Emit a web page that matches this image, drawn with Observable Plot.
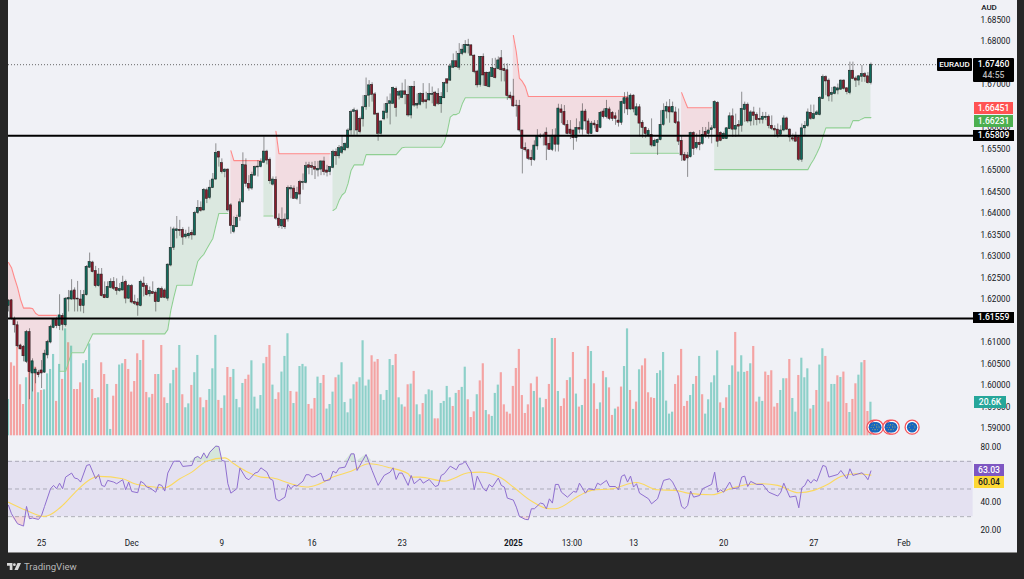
<!DOCTYPE html>
<html>
<head>
<meta charset="utf-8">
<script src="https://cdn.jsdelivr.net/npm/d3@7"></script>
<script src="https://cdn.jsdelivr.net/npm/@observablehq/plot@0.6"></script>
<style>
html,body{margin:0;padding:0;background:#262626;width:1024px;height:579px;overflow:hidden;font-family:Roboto,sans-serif}
#chart{position:relative;width:1024px;height:579px;overflow:hidden}
#panel{position:absolute;left:8px;top:0;width:1009px;height:553px;background:#f0f1f6;border-bottom:1px solid #8a8a8a;box-sizing:border-box}
#chart > svg{position:absolute;left:0;background:transparent;max-width:none}
.tag{position:absolute;text-align:center;font-size:8.6px;font-weight:500;line-height:11px;box-sizing:border-box;white-space:nowrap}
#brand{position:absolute;left:7px;top:561px;display:flex;align-items:center;gap:3px;color:#b8b8b8;font-size:9.6px}
</style>
</head>
<body>
<div id="chart"><div id="panel"></div></div>
<script>
// EUR/AUD 4-hour candles, prices in 1/10000
const opens = [16185,16198,16154,16140,16093,16090,16055,16124,16028,16028,16030,16035,16030,16070,16100,16134,16152,16138,16162,16140,16200,16200,16221,16202,16200,16185,16210,16274,16286,16266,16231,16258,16210,16203,16227,16241,16227,16220,16221,16241,16202,16231,16194,16193,16185,16237,16231,16212,16217,16216,16194,16224,16221,16202,16279,16320,16359,16362,16362,16345,16347,16355,16349,16401,16413,16407,16454,16436,16459,16479,16543,16517,16496,16502,16419,16357,16368,16392,16426,16512,16469,16458,16488,16507,16508,16518,16544,16525,16467,16478,16388,16370,16386,16386,16456,16458,16434,16473,16471,16471,16512,16510,16508,16500,16502,16521,16500,16496,16506,16543,16533,16541,16547,16552,16593,16636,16638,16620,16619,16647,16674,16699,16677,16632,16585,16619,16634,16655,16655,16690,16674,16669,16684,16676,16628,16694,16651,16653,16678,16663,16663,16676,16681,16678,16654,16668,16712,16709,16739,16754,16739,16771,16774,16789,16791,16767,16730,16699,16764,16727,16694,16717,16736,16736,16761,16736,16733,16674,16672,16651,16650,16593,16552,16547,16529,16524,16556,16581,16581,16588,16562,16548,16581,16560,16642,16636,16606,16595,16593,16575,16599,16595,16637,16614,16585,16609,16606,16599,16637,16624,16642,16634,16626,16616,16611,16655,16668,16642,16674,16628,16647,16611,16599,16582,16583,16556,16564,16571,16606,16637,16647,16635,16635,16612,16569,16536,16535,16531,16587,16552,16564,16562,16590,16585,16594,16598,16657,16587,16573,16573,16596,16626,16595,16606,16604,16641,16653,16614,16635,16629,16620,16618,16622,16625,16604,16597,16595,16583,16593,16621,16595,16575,16581,16577,16525,16598,16603,16634,16620,16629,16629,16666,16717,16709,16676,16678,16686,16688,16709,16691,16680,16732,16714,16709,16718,16724,16719,16703];
const closes = [16196,16155,16140,16091,16084,16068,16124,16031,16056,16037,16024,16028,16074,16101,16136,16152,16138,16163,16141,16202,16203,16219,16200,16200,16185,16210,16276,16287,16264,16231,16258,16208,16203,16229,16241,16225,16220,16224,16239,16202,16231,16193,16190,16186,16241,16229,16210,16220,16213,16194,16225,16204,16204,16281,16320,16363,16363,16359,16344,16351,16353,16349,16401,16413,16406,16455,16434,16460,16479,16541,16530,16496,16502,16407,16371,16371,16390,16426,16513,16469,16458,16490,16508,16509,16520,16544,16523,16475,16479,16388,16371,16385,16368,16459,16459,16434,16448,16444,16473,16510,16506,16506,16502,16504,16521,16496,16495,16508,16543,16533,16552,16554,16562,16593,16636,16640,16593,16589,16647,16673,16698,16676,16630,16585,16614,16637,16655,16661,16692,16645,16682,16684,16676,16628,16694,16651,16655,16678,16659,16659,16678,16678,16650,16655,16671,16703,16702,16742,16754,16740,16771,16781,16792,16792,16767,16729,16698,16764,16721,16696,16727,16738,16715,16756,16733,16731,16673,16668,16649,16650,16593,16550,16547,16527,16524,16558,16580,16578,16579,16558,16548,16581,16560,16644,16634,16606,16585,16585,16575,16599,16595,16637,16614,16585,16609,16605,16589,16634,16624,16643,16620,16620,16620,16611,16659,16668,16642,16674,16642,16647,16609,16599,16585,16592,16558,16569,16571,16606,16639,16648,16635,16648,16610,16567,16535,16523,16528,16587,16550,16564,16559,16583,16581,16593,16598,16659,16567,16569,16585,16598,16626,16595,16604,16602,16643,16653,16614,16635,16627,16617,16617,16625,16625,16603,16597,16593,16583,16593,16621,16595,16577,16572,16567,16525,16598,16604,16635,16620,16631,16635,16669,16717,16707,16672,16680,16693,16691,16709,16690,16682,16732,16713,16709,16719,16724,16717,16703,16746];
const highs = [16200,16200,16159,16148,16096,16093,16128,16132,16062,16041,16035,16058,16082,16105,16140,16155,16159,16211,16167,16204,16221,16246,16227,16242,16221,16221,16279,16308,16289,16277,16272,16272,16241,16241,16248,16251,16248,16237,16254,16245,16235,16235,16210,16202,16245,16252,16237,16229,16241,16220,16227,16229,16225,16283,16368,16368,16393,16384,16367,16361,16368,16361,16405,16430,16427,16458,16459,16477,16493,16562,16545,16527,16504,16504,16423,16392,16396,16434,16541,16527,16488,16496,16510,16523,16527,16578,16547,16529,16485,16485,16399,16413,16399,16464,16465,16464,16461,16477,16492,16519,16519,16519,16521,16521,16523,16531,16512,16509,16547,16550,16558,16580,16564,16597,16640,16645,16642,16624,16674,16715,16709,16704,16681,16634,16616,16655,16671,16678,16694,16694,16686,16703,16711,16696,16696,16707,16678,16681,16702,16682,16702,16694,16684,16690,16681,16705,16713,16748,16771,16777,16795,16792,16802,16805,16792,16769,16733,16765,16771,16729,16730,16760,16761,16764,16779,16748,16748,16682,16712,16663,16663,16593,16564,16549,16547,16569,16595,16585,16585,16599,16581,16595,16597,16654,16653,16651,16616,16616,16593,16620,16613,16655,16642,16620,16614,16616,16616,16637,16643,16663,16647,16637,16634,16640,16661,16681,16682,16678,16676,16655,16653,16616,16601,16597,16620,16573,16573,16639,16655,16659,16665,16659,16647,16643,16581,16542,16542,16589,16590,16585,16593,16600,16600,16612,16604,16662,16660,16590,16589,16600,16634,16643,16631,16616,16682,16659,16657,16639,16647,16634,16645,16635,16635,16629,16627,16604,16608,16604,16627,16624,16597,16585,16589,16581,16608,16614,16643,16652,16652,16639,16672,16722,16720,16713,16693,16695,16701,16711,16711,16693,16752,16752,16719,16721,16744,16728,16728,16750];
const lows = [16171,16152,16122,16088,16083,16055,16051,15967,15985,16004,16018,15993,16028,16062,16097,16132,16132,16128,16127,16136,16171,16198,16171,16171,16171,16167,16208,16272,16262,16227,16229,16206,16202,16202,16225,16221,16210,16217,16220,16190,16200,16190,16186,16161,16183,16206,16208,16206,16212,16171,16193,16203,16202,16196,16276,16314,16341,16347,16326,16341,16341,16338,16348,16398,16403,16406,16423,16432,16458,16477,16508,16492,16483,16403,16352,16353,16367,16382,16423,16461,16452,16454,16487,16485,16506,16516,16513,16468,16464,16384,16365,16363,16363,16380,16434,16433,16430,16421,16454,16469,16490,16488,16479,16485,16488,16488,16485,16488,16504,16512,16527,16537,16544,16550,16582,16582,16582,16585,16601,16640,16647,16659,16628,16568,16582,16616,16620,16606,16653,16624,16664,16667,16653,16624,16620,16647,16643,16650,16655,16643,16661,16655,16647,16651,16633,16667,16681,16707,16737,16739,16733,16767,16771,16771,16767,16725,16692,16694,16696,16694,16692,16716,16713,16734,16706,16706,16663,16664,16647,16624,16589,16492,16543,16523,16510,16521,16547,16574,16557,16523,16547,16544,16543,16543,16609,16603,16583,16572,16547,16566,16585,16582,16593,16582,16584,16597,16588,16597,16620,16620,16616,16614,16605,16601,16605,16632,16628,16640,16634,16626,16578,16575,16575,16578,16554,16556,16535,16569,16603,16620,16610,16634,16607,16558,16521,16521,16484,16529,16535,16548,16546,16559,16575,16573,16562,16596,16554,16567,16572,16572,16595,16577,16577,16581,16589,16612,16610,16603,16604,16604,16608,16608,16616,16597,16593,16577,16575,16581,16590,16593,16566,16567,16566,16521,16519,16581,16600,16617,16618,16629,16627,16665,16674,16660,16659,16676,16676,16686,16687,16676,16676,16711,16693,16697,16705,16705,16701,16699];
// Volume in thousands and bar colour (G / R)
const volumes = [22.3,44.8,42.7,54.4,31.3,19.2,35.6,40.1,46.2,42.1,26.4,27.8,28.2,38,40.7,49.9,21.1,43.8,34.6,65.6,57.1,55,28.4,28.4,32.5,44.2,46.2,56.4,28.4,22.9,23.3,44.8,37.6,31.5,3.9,24.3,31.5,43.4,44.2,46.8,40.7,26.8,33.3,50.3,46.2,58.5,26.6,23.3,25.4,37.6,37.6,55.4,23.3,19.8,31.9,40.1,41.5,55.4,25.2,17.2,19.6,30.9,38.7,49.3,23.3,17.2,21.7,28.4,41.1,61.6,21.7,16.8,24.5,41.9,35.8,40.7,22.3,17.2,32.1,34.6,37.2,46,23.7,16.4,24.7,44.2,48.1,55.4,31.1,22.3,26.4,39.1,48.7,62.6,27.2,19.8,26.8,42.5,43.8,42.3,19.2,16.4,22.9,36,32.1,37,16.4,19.2,26.8,35.6,37.2,44.8,20.4,14.1,22.5,31.3,32.9,35.6,58.3,30.5,34.2,49.1,45.2,46.8,25.2,21.7,27.8,46.8,43.1,49.9,23.3,19,17.6,31.3,31.7,39.5,19,12.9,19.8,25.2,28.2,27.6,10.4,10.4,19.8,21.1,30.3,23.3,18,26,27.8,29.7,42.1,22.1,11.2,14.7,25.2,33.7,44.2,15.5,12.9,11.9,26,31.1,38.7,19,14.5,13.3,30.3,41.3,53,24.7,13.7,19,31.9,27.2,36,23.1,17.2,22.3,31.5,59.7,59.7,27.2,18,22.7,33.9,35.6,51.1,25.6,17.6,18.6,34.6,54.8,51.7,31.9,16.2,20.2,39.5,35.6,29.4,12.5,16.4,17.6,29.9,42.5,65.6,27.8,16.2,20.7,40.5,42.9,47.2,26.4,23.3,22.9,38.2,39.9,51.1,21.3,13.3,14.5,31.5,36.8,53,18,21.1,24.7,31.5,36.4,48.7,25.2,13.3,22.1,32.5,36.8,52.1,20.2,16.8,23.3,30.9,42.9,63.4,39.1,49.1,38.9,39.5,44.2,54.8,20.7,23.7,21.1,39.1,37,39.9,17.6,19.8,27.8,35,35,46.8,22.9,14.5,37,47.6,35.6,41.1,16.4,18.6,27.8,43.4,53.4,48.7,20.7,31.5,31.5,36.8,35.8,39.1,19.8,14.3,22.3,31.9,37.2,44.8,46.2,14.9,20.6];
const volumeSides = "GRRRRRGRGRGRGGGGRGRGRGRRRGGGRRGRRGGRRGGRRRRRGRRGRRGRRGGGRGRGGRGGRGRGGGRRGRRGGGGRRGGGGGRRGRRGGGRGRGGGRRRGGRGGGRGGGGGGRGGGGRRRGGGGGRGGRRGRGGRGGGRRGGGGRGRGGRRRGRRGRGGGRRRRRRRRRRRGRGGRRGRGRRRGRGRGRRGRRGRGRRGRRGGRGRGRRRRRGGGGGGRRRRRGGRGRGGGGGRGRGGRGGGRGRRGGRRRRRGGRRGGRGGGRGRGGRRGGRGRRGRRGGRRG".split("");
// Supertrend stop per bar, and the last bar of each red / green run
const stopLevels = [16286,16274,16250,16228,16200,16180,16180,16180,16179,16168,16163,16163,16163,16163,16163,16163,16163,
16033,16033,16033,16055,16076,16076,16076,16076,16076,16090,16105,16120,16120,16120,16120,16120,16120,16120,16120,16120,16120,16120,16120,16120,16120,16120,16120,16120,16120,16120,16120,16120,16120,16120,16120,16120,16130,16174,16205,16233,16233,16233,16233,16233,16233,16262,16289,16298,16305,16318,16330,16342,16372,16400,16400,16400,16400,
16546,16523,16523,16523,16523,16523,16523,16523,16523,16523,16523,
16394,16394,16394,16394,
16591,16539,16539,16539,16539,16539,16539,16539,16539,16539,16539,16539,16539,16539,16539,16539,16539,16539,16539,
16407,16412,16430,16443,16449,16470,16500,16513,16513,16513,16513,16537,16537,16537,16537,16537,16537,16537,16537,16537,16537,16537,16545,16553,16554,16554,16554,16554,16554,16554,16554,16554,16554,16554,16554,16554,16554,16565,16590,16624,16630,16630,16634,16655,16669,16669,16669,16669,16669,16669,16669,16669,16669,16669,16669,16669,16669,16669,16669,16669,
16814,16775,16715,16707,16695,16672,16672,16672,16672,16672,16672,16672,16672,16672,16672,16672,16672,16672,16672,16672,16672,16672,16672,16672,16672,16672,16672,16672,16672,16672,16672,16672,16672,16672,16672,16672,16672,16672,16672,
16540,16540,16540,16540,16540,16540,16540,16540,16540,16540,16540,16540,16540,16540,16540,16540,16540,
16681,16663,16646,16646,16646,16646,16646,16646,16646,16646,16646,
16502,16502,16502,16502,16502,16502,16502,16502,16502,16502,16502,16502,16502,16502,16502,16502,16502,16502,16502,16502,16502,16502,16502,16502,16502,16502,16502,16502,16502,16502,16502,16502,16515,16526,16540,16555,16578,16599,16599,16599,16599,16599,16599,16599,16599,16599,16616,16616,16616,16620,16623,16623,16623];
const stopRunEnds = [16,73,84,88,107,167,206,223,234,287];
const stopRunSides = ["red","green","red","green","red","green","red","green","red","green"];
// RSI line and its average, read at their turning points
const rsiBars = [0,1,3,5,6,7,8,10,11,12,14,15,16,17,18,19,21,22,23,24,26,27,29,30,31,32,33,35,36,38,39,40,41,43,44,45,46,47,49,50,51,52,53,55,57,58,61,62,63,64,65,66,67,69,70,71,72,73,74,76,77,79,80,82,83,84,86,87,88,89,90,92,93,94,95,96,98,99,100,101,102,104,105,107,108,109,110,112,114,115,116,119,121,123,125,127,128,129,130,131,133,134,135,137,138,140,142,143,144,145,147,149,150,151,152,154,155,156,158,159,160,161,163,164,165,166,168,169,170,172,173,174,175,177,178,179,180,181,182,183,184,186,188,189,190,192,193,195,196,197,199,200,202,203,204,205,206,207,208,209,210,213,214,216,218,220,221,223,224,225,226,227,228,230,231,234,235,236,237,238,240,241,243,244,245,246,247,249,251,253,256,257,258,260,262,263,264,265,266,267,268,269,271,272,273,276,277,279,280,281,284,285,286,287];
const rsiValues = [38.1,32.1,24.9,23.2,37.4,28.5,29,28,30.9,37.4,50.2,52.6,50.2,54.2,50.2,58.6,61.5,57.9,57.4,55,67,67.7,57.4,60.5,52.6,51.8,56.2,55,53.8,56.7,49.4,55,48.2,47.3,55.5,54.2,51.4,50.9,47.7,53.3,52.6,48.5,61.5,70.1,70.1,66.3,67,72.5,73.5,71.8,76.1,72.3,76.6,81,80.7,70.6,70.1,53.8,47,50.2,65.1,57.9,56.7,61.5,62.2,65.3,62.2,57.4,56.2,42.9,41.3,44.1,53.3,50.2,52.6,52.1,55.7,60.3,60.3,58.6,59.1,61.5,55.7,56.7,62.9,61.5,65.1,65.8,75.4,75.4,63.4,74.9,63.4,52.6,59.8,62.2,65.3,56.9,61.5,61.5,52.6,59.8,53.8,57.4,54.2,56.9,51.8,52.6,59.8,61,66.5,63.9,67.7,68.2,69.9,62.2,49.4,59.3,50.2,48.5,53.3,51.4,57.9,52.6,51.4,43.4,42,36.9,30.2,28,27.8,35.7,35.7,39.8,39.3,35.7,42.9,39.8,53.3,53.3,47.7,44.1,48.2,47.7,54.2,47,50.2,49.4,54.2,53,56.2,51.8,51.8,49.4,59.1,60.3,55,59.3,51.4,53.8,47,42.9,39.3,42.9,56.2,57.4,55,46.5,37.4,35.7,38.1,48.5,44.1,45.3,50.2,53.3,62.2,47.7,49.4,47.7,55,50.2,50.9,58.6,59.3,51.8,55.5,53.3,53.3,47.7,44.9,47.7,54.2,44.1,44.9,36.4,50.9,52.6,56.9,54.2,56.9,55.5,67,66.3,58.6,60.5,63.4,57.4,64.6,59.8,61.7,59.8,56.7,63.03];
const rsiAvgBars = [0,6,12,14,18,23,27,30,38,42,47,52,57,61,66,72,75,79,84,88,94,99,103,108,114,120,127,133,134,137,145,153,157,164,168,174,180,182,190,194,201,209,216,222,226,234,241,246,251,256,263,268,273,277,282,287];
const rsiAvgValues = [40.5,34.5,30.2,31.6,38.1,49.4,56.7,59.1,57.4,53.8,51.8,50.9,57.4,62.2,70.1,72.5,68.2,62.9,58.6,57.9,53.8,51.4,53.3,58.6,62.9,68.2,65.3,61,58.6,58.6,55.7,61.7,62.2,57.9,51.4,41.3,35.7,35.7,45.3,49,50.2,54.7,49.4,49,47,45.8,50.9,53.3,53.8,52.6,47.3,49,53.8,59.1,61,60.04];
// Axes, levels and event markers (ticks that sit fully under a price tag are left out)
const priceTicks = [1.59,1.595,1.6,1.605,1.61,1.62,1.625,1.63,1.635,1.64,1.645,1.65,1.655,1.66,1.67,1.68,1.685];
const rsiTicks = [20,40,80];
const rsiGuides = [30,50,70];
const timeTickBars = [11,41,71,101,131,168,187.5,208,238,268,298];
const timeTickLabels = ["25","Dec","9","16","23","2025","13:00","13","20","27","Feb"];
const levelPrices = [1.65809,1.61559];
const lastPrice = 1.6746;
const eventBars = [288,288.8,293.3,294.1,300.7];
const eventPrice = 1.5903;

const xOpt = {domain:[0,321.8],axis:null};
const base = {width:1024,marginLeft:8,marginRight:49,marginTop:0,marginBottom:0,style:{fontFamily:"Roboto,sans-serif",color:"#131722",background:"transparent",overflow:"visible"}};
const bars = d3.range(opens.length);
const seg = i => stopRunEnds.findIndex(e => i <= e);
const candles = bars.map(i => ({i,o:opens[i]/1e4,c:closes[i]/1e4,h:highs[i]/1e4,l:lows[i]/1e4,up:closes[i]>=opens[i],
  stop:stopLevels[i]/1e4,seg:seg(i),side:stopRunSides[seg(i)],mid:(opens[i]+closes[i])/2e4}));
const volumeRows = bars.map(i => ({i,v:volumes[i],side:volumeSides[i]}));
const rsiRows = rsiBars.map((b,k) => ({b,v:rsiValues[k]}));
const avgRows = rsiAvgBars.map((b,k) => ({b,v:rsiAvgValues[k]}));

const chart = document.getElementById("chart");
function add(svg, top){svg.style.top = top+"px"; chart.appendChild(svg); return svg;}

// volume pane sits behind the candles
const volumePlot = Plot.plot({...base,height:436,x:xOpt,y:{domain:[0,267.05],range:[435.3,0],axis:null},marks:[
  Plot.rect(volumeRows,{x1:d=>d.i-.36,x2:d=>d.i+.36,y1:0,y2:"v",fill:d=>d.side==="G"?"#8dd0c9":"#f4a3a3",clip:true})
]});
add(volumePlot,0);

const pricePlot = Plot.plot({...base,height:436,x:xOpt,y:{domain:[1.58814,1.68953],range:[436,0]},marks:[
  Plot.axisY(priceTicks,{anchor:"right",label:null,tickSize:0,tickPadding:5,tickFormat:d3.format(".5f"),fontSize:8.2,textAnchor:"start",fill:"#131722"}),
  Plot.areaY(candles,{x:"i",y1:"stop",y2:"mid",z:"seg",fill:d=>d.side==="red"?"#ff5252":"#4caf50",fillOpacity:.13,clip:true}),
  Plot.line(candles,{x:"i",y:"stop",z:"seg",stroke:d=>d.side==="red"?"#ff8a8a":"#8fcf92",strokeWidth:1.1,clip:true}),
  Plot.ruleY([lastPrice],{stroke:"#444",strokeWidth:.8,strokeDasharray:"1,2"}),
  Plot.ruleX(candles,{x:"i",y1:"l",y2:"h",stroke:"#333",strokeWidth:.8,strokeOpacity:.65,clip:true}),
  Plot.rect(candles,{x1:d=>d.i-.36,x2:d=>d.i+.36,y1:"o",y2:"c",fill:d=>d.up?"#0f6b5c":"#8d1a2b",stroke:"#1c1c1c",strokeWidth:.55,clip:true}),
  Plot.ruleY(levelPrices,{stroke:"#000",strokeWidth:2}),
  Plot.dot(eventBars,{x:d=>d,y:()=>eventPrice,r:7,fill:"#fff",stroke:"#f4525a",strokeWidth:1.3}),
  Plot.dot(eventBars,{x:d=>d,y:()=>eventPrice,r:5.2,fill:"#1565c0"}),
  Plot.dot(eventBars,{x:d=>d,y:()=>eventPrice,r:2.8,fill:"none",stroke:"#d8c24a",strokeWidth:.7,strokeDasharray:"1,1.6"})
]});
add(pricePlot,0);

const rsiPlot = Plot.plot({...base,height:116,marginBottom:20,x:xOpt,y:{domain:[17.83,87.22],range:[96,0]},marks:[
  Plot.rect([{}],{x1:()=>0,x2:()=>321,y1:()=>30,y2:()=>70,fill:"#7e57c2",fillOpacity:.1}),
  Plot.areaY(rsiRows,{x:"b",y1:()=>70,y2:d=>Math.max(70,d.v),fill:"#4caf50",fillOpacity:.16}),
  Plot.areaY(rsiRows,{x:"b",y1:()=>30,y2:d=>Math.min(30,d.v),fill:"#ff5252",fillOpacity:.16}),
  Plot.ruleY(rsiGuides,{x1:()=>0,x2:()=>321,stroke:"#787b86",strokeOpacity:.6,strokeWidth:.9,strokeDasharray:"4,3"}),
  Plot.line(avgRows,{x:"b",y:"v",stroke:"#fbd95f",strokeWidth:1.1,curve:"monotone-x"}),
  Plot.line(rsiRows,{x:"b",y:"v",stroke:"#8f6fd0",strokeWidth:1}),
  Plot.axisY(rsiTicks,{anchor:"right",label:null,tickSize:0,tickPadding:5,tickFormat:d3.format(".2f"),fontSize:8.2,textAnchor:"start",fill:"#131722"}),
  Plot.axisX(timeTickBars,{anchor:"bottom",label:null,tickSize:0,tickPadding:7,tickFormat:d=>timeTickLabels[timeTickBars.indexOf(d)],fontSize:8.2,fill:"#131722"})
]});
add(rsiPlot,437);
d3.select(rsiPlot).selectAll("text").filter(function(){return this.textContent==="2025";}).attr("font-weight","bold");

// right-hand price tags, placed through each pane's y scale
const py = v => pricePlot.scale("y").apply(v);
const ry = v => 437 + rsiPlot.scale("y").apply(v);
const vy = v => volumePlot.scale("y").apply(v);
function tag(text,bg,fg,cy,left,w,h,extra){
  const d = document.createElement("div");
  d.className = "tag";
  d.textContent = text;
  d.style.cssText = `left:${left}px;top:${cy-h/2}px;width:${w}px;height:${h}px;line-height:${h}px;background:${bg};color:${fg};${extra||""}`;
  chart.appendChild(d);
  return d;
}
tag("EURAUD","#000","#fff",py(lastPrice),937,35,13,"border-radius:1px;font-size:8px");
const last = tag("1.67460","#000","#fff",py(lastPrice)+5.5,973,41,24,"border-radius:1px;line-height:13px;text-align:center");
const timer = document.createElement("div"); timer.textContent = "44:55"; timer.style.cssText="color:#b8b8b8;line-height:9px"; last.appendChild(timer);
tag("1.66451","#ff5252","#fff",py(1.66451),974,39,12);
tag("1.66231","#4caf50","#fff",py(1.66231)+3.5,974,39,12);
tag("1.65809","#000","#fff",py(levelPrices[0]),973,41,11);
tag("1.61559","#000","#fff",py(levelPrices[1]),973,41,11);
tag("20.6K","#26a69a","#fff",vy(volumes[287])+.5,974,32,12);
tag("63.03","#7e57c2","#fff",ry(63.03)-.5,974,30,12);
tag("60.04","#fdd835","#131722",ry(60.04)+7.5,974,30,12);
tag("AUD","transparent","#131722",8,977,24,12,"font-size:8px");

// footer logo and wordmark
const brand = document.createElement("div");
brand.id = "brand";
brand.innerHTML = '<svg class="logo" width="14" height="8" viewBox="0 0 36 20"><path fill="#d8d8d8" d="M0 0h14v18H7V7H0z"/><circle cx="19" cy="4" r="3.6" fill="#d8d8d8"/><path fill="#d8d8d8" d="M27 0h9l-8 18h-9z"/></svg><span>TradingView</span>';
chart.appendChild(brand);
</script>
</body>
</html>
